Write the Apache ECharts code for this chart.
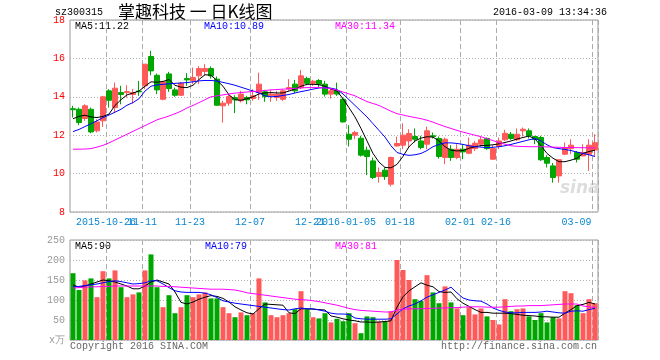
<!DOCTYPE html>
<html><head><meta charset="utf-8">
<script src="https://cdn.jsdelivr.net/npm/echarts@6/dist/echarts.min.js"></script>
<style>html,body{margin:0;padding:0;background:#fff}#c{width:660px;height:360px}</style>
</head><body><div id="c"></div>
<script>
// ---- data ----
const tickIdx = [6,12,20,30,40,46,55,65,71,87];
const tickLabels = ['2015-10-26','11-11','11-23','12-07','12-21','2016-01-05','01-18','02-01','02-16','03-09'];
// [open, close, low, high]
const ohlc = [
[13.38,13.33,12.92,13.53],[13.35,12.66,12.52,13.44],[12.87,13.53,12.75,13.61],[13.35,12.17,12.10,13.44],[12.23,12.69,12.14,12.83],
[12.75,14.00,12.43,14.05],[14.31,13.82,13.44,14.40],[13.44,14.45,13.15,14.74],[14.22,14.12,13.61,14.57],[14.22,14.27,13.96,14.60],
[14.12,14.22,13.65,14.40],[14.30,14.26,14.05,14.83],[14.57,15.70,14.40,15.70],[16.10,15.35,15.12,16.39],[15.12,14.36,14.14,15.21],
[13.87,14.78,13.82,14.83],[15.19,14.43,14.26,15.30],[14.36,14.08,14.00,14.48],[14.08,14.70,14.05,14.78],[14.95,14.88,14.57,15.23],
[14.83,15.00,14.66,15.52],[15.09,15.47,14.66,15.60],[15.32,15.47,15.09,15.70],[15.47,15.09,14.95,15.58],[14.92,13.56,13.53,15.06],
[13.53,13.67,12.66,13.79],[13.67,14.01,13.53,14.14],[13.96,13.84,13.15,14.08],[13.79,14.14,13.70,14.31],[13.96,13.84,13.61,14.05],
[13.91,14.05,13.79,14.39],[14.22,14.66,13.84,15.26],[14.26,14.01,13.74,14.36],[14.05,14.14,13.74,14.36],[13.96,14.14,13.79,14.31],
[13.87,14.31,13.79,14.40],[14.40,14.48,14.31,14.92],[14.66,14.31,14.18,14.88],[14.48,15.09,14.40,15.40],[14.95,14.70,14.60,15.05],
[14.70,14.81,14.57,14.88],[14.85,14.66,14.48,14.92],[14.66,14.14,14.01,14.83],[14.14,14.31,13.91,14.43],[14.31,14.14,14.05,14.74],
[13.87,12.69,12.66,13.96],[12.05,11.79,11.41,12.52],[12.00,12.14,11.79,12.23],[11.84,10.96,10.89,11.97],[11.22,10.89,9.92,11.41],
[10.66,9.80,9.71,10.84],[9.85,10.06,9.53,10.32],[10.18,9.85,9.67,10.32],[9.45,10.84,9.33,10.89],[11.44,11.57,11.41,11.93],
[11.48,12.00,11.27,12.62],[11.70,12.09,11.36,12.31],[11.93,11.79,11.62,12.35],[11.70,11.36,11.27,11.97],[11.53,12.23,11.27,12.45],
[11.97,11.93,11.83,12.14],[11.83,10.89,10.78,11.93],[10.84,11.79,10.49,11.88],[11.27,10.84,10.66,11.48],[10.84,11.27,10.75,11.53],
[11.27,11.13,10.75,11.53],[11.06,11.48,11.01,11.88],[11.30,11.58,11.18,11.70],[11.53,11.76,11.41,11.93],[11.83,11.30,11.24,11.88],
[10.75,11.30,10.72,11.48],[11.41,11.70,11.27,11.88],[11.76,12.10,11.70,12.28],[12.05,11.83,11.76,12.17],[11.76,12.05,11.70,12.35],
[12.23,12.31,11.93,12.40],[12.23,11.97,11.83,12.35],[11.93,11.79,11.53,11.97],[11.88,10.72,10.66,11.97],[10.84,10.54,10.32,10.96],
[10.40,9.80,9.53,10.55],[9.88,10.72,9.53,10.75],[11.01,11.36,10.96,11.62],[11.30,11.48,11.01,11.79],[11.10,10.75,10.58,11.18],
[10.92,11.10,10.90,11.53],[11.01,11.48,10.14,11.79],[11.23,11.61,10.92,12.05]
];
const ma5 = [12.86,12.98,13.04,12.95,12.92,12.98,13.10,13.55,13.85,14.10,14.20,14.30,14.55,14.78,14.76,14.80,14.90,14.60,14.50,14.48,
14.60,14.90,15.15,15.12,14.85,14.55,14.10,13.85,13.82,13.90,14.00,14.15,14.20,14.22,14.20,14.20,14.30,14.40,14.55,14.65,
14.65,14.63,14.55,14.40,14.30,13.90,13.43,12.95,12.35,11.70,11.05,10.60,10.32,10.30,10.48,10.90,11.40,11.70,11.85,11.92,
11.90,11.70,11.40,11.22,11.18,11.20,11.32,11.40,11.46,11.47,11.50,11.55,11.62,11.70,11.80,11.88,11.96,11.80,11.45,11.05,
10.80,10.62,10.62,10.70,10.80,11.05,11.15,11.22];
const ma10 = [12.19,12.30,12.45,12.60,12.75,12.92,13.05,13.20,13.35,13.56,13.70,13.90,14.30,14.55,14.62,14.65,14.68,14.70,14.72,14.74,
14.78,14.83,14.85,14.85,14.82,14.75,14.68,14.60,14.50,14.40,14.30,14.20,14.05,14.00,14.02,14.07,14.12,14.20,14.27,14.33,
14.40,14.46,14.48,14.45,14.38,14.15,13.85,13.55,13.25,12.95,12.60,12.25,11.90,11.45,11.10,11.00,10.95,10.98,11.05,11.20,
11.40,11.52,11.60,11.60,11.57,11.52,11.45,11.40,11.38,11.35,11.37,11.40,11.45,11.52,11.60,11.68,11.76,11.82,11.70,11.50,
11.35,11.30,11.26,11.20,11.12,11.05,10.98,10.89];
const ma30 = [11.27,11.27,11.28,11.30,11.38,11.47,11.60,11.75,11.90,12.05,12.20,12.35,12.50,12.65,12.80,12.90,13.00,13.12,13.25,13.42,
13.55,13.70,13.85,14.00,14.05,14.10,14.15,14.19,14.22,14.25,14.28,14.30,14.33,14.36,14.38,14.40,14.42,14.44,14.46,14.48,
14.48,14.48,14.46,14.42,14.35,14.25,14.15,14.05,13.90,13.75,13.65,13.55,13.40,13.25,13.12,13.05,12.98,12.92,12.86,12.78,
12.68,12.56,12.45,12.35,12.25,12.16,12.08,12.00,11.92,11.82,11.72,11.61,11.53,11.45,11.42,11.41,11.40,11.40,11.40,11.39,
11.38,11.37,11.36,11.36,11.35,11.35,11.34,11.34];
const vol = [167,125,149,154,107,172,154,174,132,107,114,119,174,214,132,82,112,67,82,112,
107,114,119,104,104,82,67,57,69,62,67,154,94,62,57,62,67,77,122,77,
57,54,67,44,53,47,67,42,17,59,57,46,47,72,200,175,150,102,98,162,
119,92,134,94,79,62,82,64,79,59,50,39,102,72,77,79,59,50,67,44,
57,54,122,117,87,67,102,92];
const vma5 = [138,132,135,140,145,150,148,145,140,135,128,128,135,145,150,145,140,120,94,90,
95,102,107,111,109,104,95,83,75,68,65,78,90,89,88,87,68,66,78,78,
77,76,75,60,57,53,50,48,45,45,44,45,46,48,82,108,123,133,143,137,
133,121,119,120,103,92,84,76,69,69,67,67,67,66,64,62,61,60,58,58,
57,57,67,76,86,89,94,90];
const vma10 = [133,134,136,138,140,143,146,148,146,143,140,141,143,148,148,140,131,123,120,119,
119,119,117,113,106,98,95,92,90,88,86,84,82,80,78,76,75,78,80,78,
78,75,72,67,65,65,64,55,53,52,52,52,52,53,65,78,85,90,98,107,
113,119,125,132,118,105,100,98,97,90,80,74,70,68,68,69,69,69,70,72,
70,68,67,72,73,72,76,79];
const vma30 = [130,131,132,133,133,134,134,135,135,135,135,135,135,135,135,134,134,133,132,131,
130,129,128,127,127,127,126,125,122,118,116,114,112,110,108,106,104,102,101,100,
98,96,93,90,87,83,79,76,74,73,72,71,70,70,75,77,78,78,78,79,
79,80,80,81,81,82,83,83,83,82,82,82,83,84,85,85,86,86,86,87,
88,89,90,90,90,85,83,81];
const maLabels = ['MA5:11.22','MA10:10.89','MA30:11.34'];
const vmaLabels = ['MA5:90','MA10:79','MA30:81'];

// ---- chart ----
const RED = '#ff5a5a', GREEN = '#00a600';
const cats = ohlc.map((d, i) => String(i));
const labelOf = {}; tickIdx.forEach((k, j) => labelOf[k] = tickLabels[j]);
const showIdx = (idx) => labelOf[idx] !== undefined;
const showLabelIdx = (idx) => idx === 0 || labelOf[idx] !== undefined;
const MONO = '"Liberation Mono","DejaVu Sans Mono",monospace';
const chart = echarts.init(document.getElementById('c'), null, {renderer: 'canvas'});
const vsplit = {show: true, interval: showIdx, lineStyle: {color: '#aaaaaa', type: [5, 3], width: 1}};
const hsplit = {show: true, lineStyle: {color: '#b0b0b0', type: [1, 2], width: 1}};
const lineS = (name, data, color, xi, yi) => ({
  name, type: 'line', data, xAxisIndex: xi, yAxisIndex: yi, symbol: 'none', silent: true,
  lineStyle: {color, width: 1}, itemStyle: {color}, z: 5
});
const txt = (x, y, text, color, extra) => Object.assign({
  type: 'text', left: x, top: y, silent: true,
  style: Object.assign({text, fill: color, font: '10px ' + MONO}, extra || {})
});
const LBL = '#0a86d0';
chart.setOption({
  animation: false,
  grid: [
    {left: 70, top: 20, width: 528, height: 192, show: true, borderColor: '#999', borderWidth: 1, backgroundColor: 'transparent'},
    {left: 70, top: 240, width: 528, height: 100, show: true, borderColor: '#999', borderWidth: 1}
  ],
  xAxis: [
    {type: 'category', gridIndex: 0, data: cats, boundaryGap: true,
     axisLine: {show: false}, axisTick: {show: false},
     axisLabel: {interval: showLabelIdx, showMinLabel: true, hideOverlap: false,
       color: LBL, fontFamily: MONO, fontSize: 10, margin: 5,
       formatter: (v, i) => labelOf[i] === undefined ? '' : (i === 87 ? '{last|' + labelOf[i] + '}' : '{n|' + labelOf[i] + '}'),
       rich: {
         n: {color: LBL, fontFamily: MONO, fontSize: 10, padding: [0, 6, 0, 0]},
         last: {color: LBL, fontFamily: MONO, fontSize: 10, padding: [0, 37, 0, 0]}
       }},
     splitLine: vsplit},
    {type: 'category', gridIndex: 1, data: cats, boundaryGap: true,
     axisLine: {show: false}, axisTick: {show: false}, axisLabel: {show: false}, splitLine: vsplit}
  ],
  yAxis: [
    {type: 'value', gridIndex: 0, min: 8, max: 18, interval: 2, axisLine: {show: false}, axisTick: {show: false},
     axisLabel: {color: '#ff0000', fontFamily: MONO, fontSize: 10, margin: 5}, splitLine: hsplit},
    {type: 'value', gridIndex: 1, min: 0, max: 250, interval: 50, axisLine: {show: false}, axisTick: {show: false},
     axisLabel: {color: '#999999', fontFamily: MONO, fontSize: 10, margin: 5, formatter: v => v === 0 ? 'x万' : String(v)},
     splitLine: hsplit}
  ],
  series: [
    {name: 'K', type: 'candlestick', xAxisIndex: 0, yAxisIndex: 0, data: ohlc.map(d => [d[0], d[1], d[2], d[3]]),
     barWidth: 5, silent: true,
     itemStyle: {color: RED, color0: GREEN, borderColor: RED, borderColor0: GREEN, borderWidth: 1}},
    lineS('MA5', ma5, '#000000', 0, 0),
    lineS('MA10', ma10, '#0000ff', 0, 0),
    lineS('MA30', ma30, '#ff00ff', 0, 0),
    {name: 'VOL', type: 'bar', xAxisIndex: 1, yAxisIndex: 1, barWidth: 5, silent: true,
     data: vol.map((v, i) => ({value: v, itemStyle: {color: ohlc[i][1] >= ohlc[i][0] ? RED : GREEN}}))},
    lineS('VMA5', vma5, '#000000', 1, 1),
    lineS('VMA10', vma10, '#0000ff', 1, 1),
    lineS('VMA30', vma30, '#ff00ff', 1, 1)
  ],
  graphic: [
    txt(55, 7, 'sz300315', '#000'),
    {type: 'text', left: 118, top: 3, silent: true, style: {text: '掌趣科技 一 日K线图', fill: '#000', font: '17px "Noto Sans CJK SC", sans-serif'}},
    {type: 'text', right: 53, top: 7, silent: true, style: {text: '2016-03-09 13:34:36', fill: '#000', font: '10px ' + MONO}},
    txt(75, 21, maLabels[0], '#000'),
    txt(204, 21, maLabels[1], '#0000ff'),
    txt(335, 21, maLabels[2], '#ff00ff'),
    txt(75, 241, vmaLabels[0], '#000'),
    txt(205, 241, vmaLabels[1], '#0000ff'),
    txt(335, 241, vmaLabels[2], '#ff00ff'),
    txt(70, 341, 'Copyright 2016 SINA.COM', '#666'),
    {type: 'text', right: 63, top: 341, silent: true, style: {text: 'http://finance.sina.com.cn', fill: '#666', font: '10px ' + MONO}},
    {type: 'text', left: 560, top: 180, silent: true, style: {text: 'sina', fill: '#dddddd', font: 'italic bold 17px "DejaVu Sans", sans-serif'}}
  ]
});
</script></body></html>
